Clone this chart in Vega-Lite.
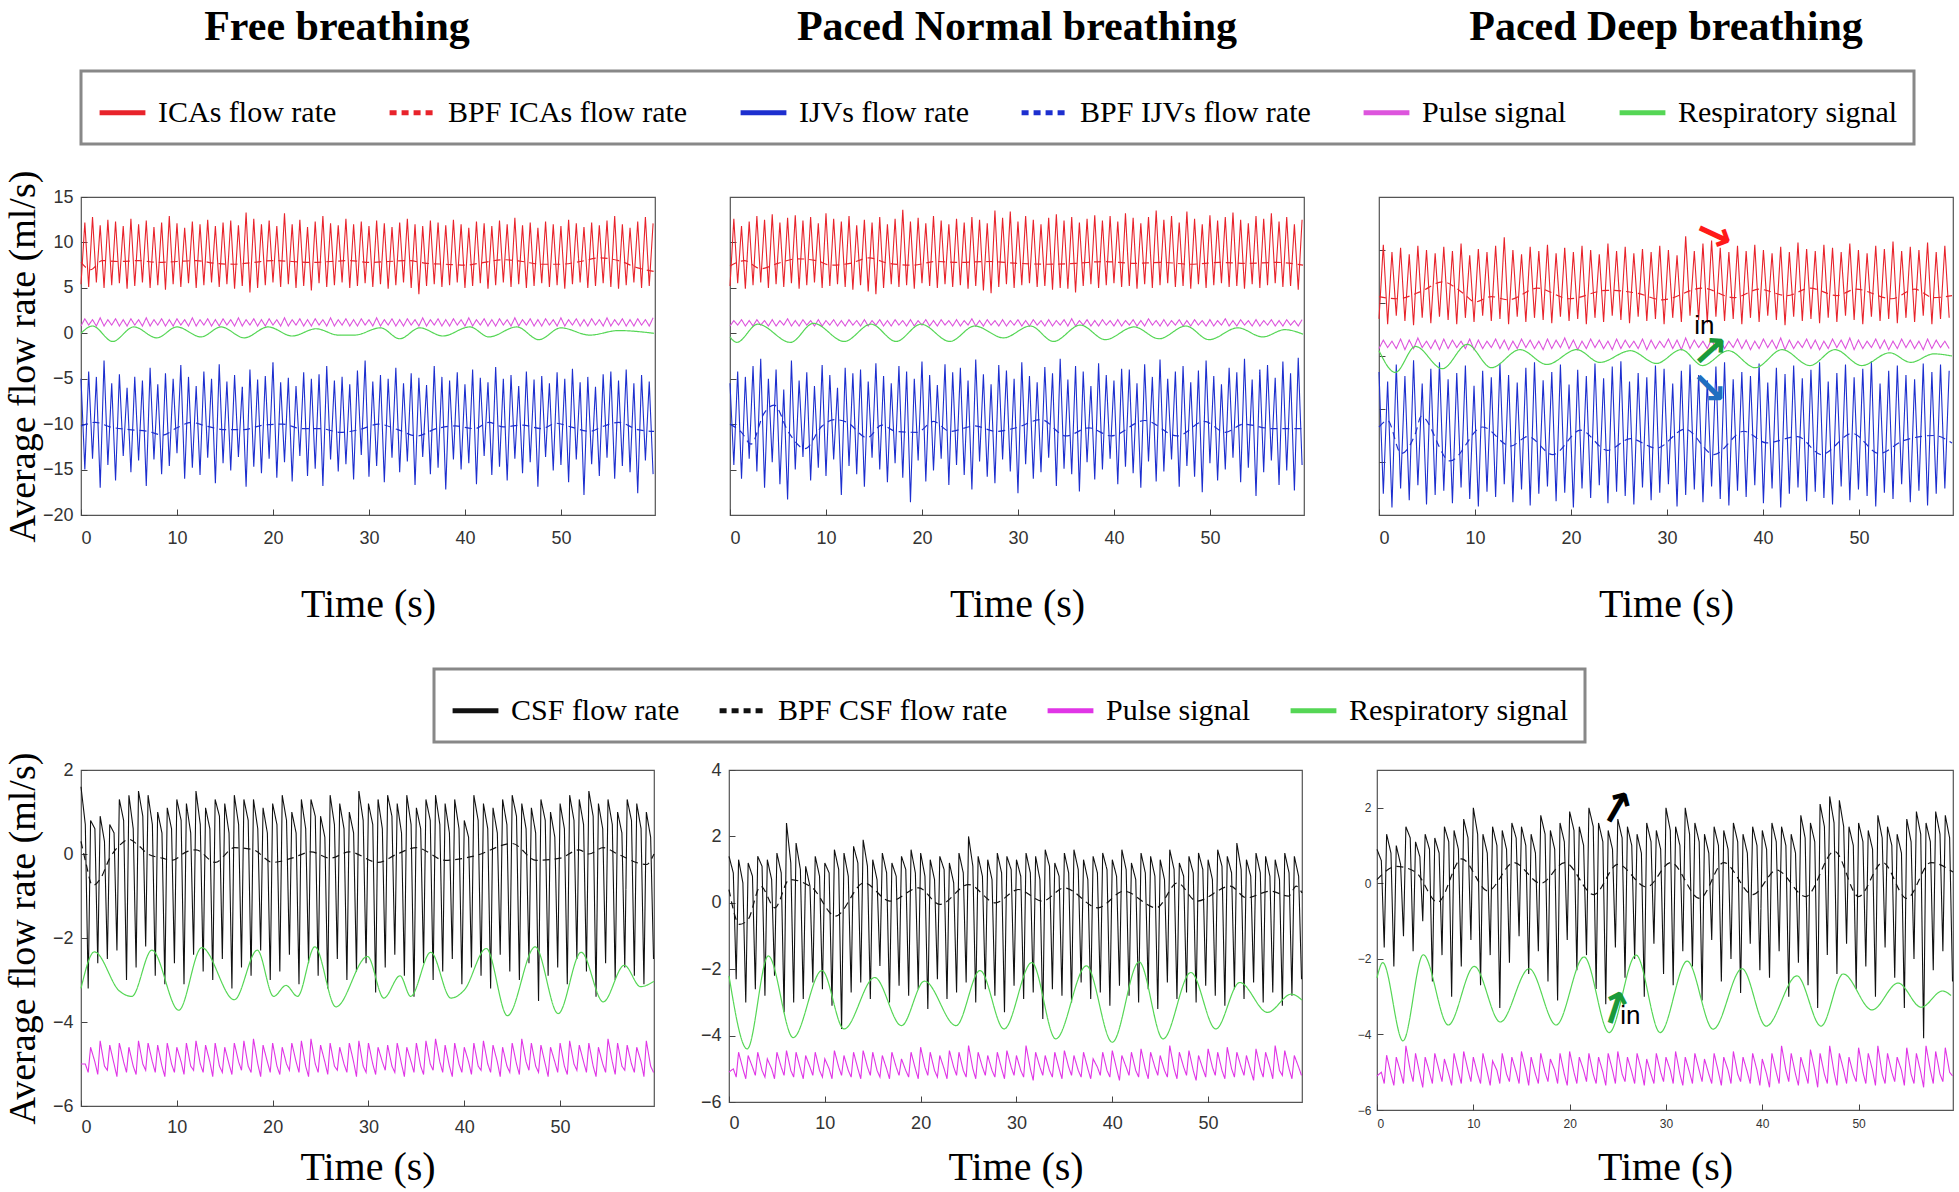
{
"$schema":"https://vega.github.io/schema/vega-lite/v6.json",
"background":"white",
"padding":{"left":3,"top":5,"right":3,"bottom":1},
"spacing":42,
"resolve":{"scale":{"color":"independent","strokeDash":"independent"}},
"config":{
 "font":"Liberation Serif",
 "view":{"stroke":"#555","strokeWidth":1.2},
 "axis":{"grid":false,"domain":false,"tickColor":"#444","tickSize":-6,"tickWidth":1,"labelFont":"Liberation Sans Narrow, Liberation Sans, Arial, sans-serif","labelFontSize":18,"labelColor":"#333","titleFont":"Liberation Serif","titleFontWeight":"normal","titleColor":"#000","titleBaseline":"middle"},
 "axisX":{"titleFontSize":40,"titleY":89,"labelPadding":20},
 "axisY":{"titleFontSize":38,"labelPadding":14},
 "title":{"font":"Liberation Serif","fontSize":42,"fontWeight":"bold","color":"#000","frame":"group","offset":148,"baseline":"alphabetic"},
 "legend":{"labelFont":"Liberation Serif","labelFontSize":30,"labelColor":"#000","labelLimit":0,"symbolType":"stroke","symbolStrokeWidth":5,"symbolSize":2100,"labelOffset":10,"strokeColor":"#888","fillColor":"#fff","padding":16}
},
"datasets":{
"p1f":[
{"t":0,"a":5.4,"c":-5.0,"e":0.8},{"t":0.4,"a":12.2,"c":-15.0,"e":1.6},{"t":0.8,"a":5.1,"c":-4.2,"e":0.9},{"t":1.2,"a":12.8,"c":-13.8,"e":1.5},{"t":1.6,"a":5.6,"c":-4.8,"e":0.8},{"t":2.0,"a":11.9,"c":-17.0,"e":1.7},{"t":2.4,"a":5.0,"c":-3.0,"e":0.8},{"t":2.8,"a":12.5,"c":-14.5,"e":1.5},{"t":3.2,"a":5.3,"c":-5.5,"e":0.9},{"t":3.6,"a":12.3,"c":-16.2,"e":1.6},
{"t":4.0,"a":5.5,"c":-4.5,"e":0.8},{"t":4.4,"a":11.8,"c":-13.5,"e":1.5},{"t":4.8,"a":4.9,"c":-6.0,"e":0.8},{"t":5.2,"a":12.6,"c":-15.3,"e":1.6},{"t":5.6,"a":5.2,"c":-4.8,"e":0.9},{"t":6.0,"a":12.0,"c":-14.0,"e":1.5},{"t":6.4,"a":5.6,"c":-5.2,"e":0.8},{"t":6.8,"a":12.4,"c":-16.8,"e":1.7},{"t":7.2,"a":5.0,"c":-3.8,"e":0.8},{"t":7.6,"a":11.7,"c":-13.9,"e":1.5},
{"t":8.0,"a":5.3,"c":-5.6,"e":0.9},{"t":8.4,"a":12.2,"c":-15.5,"e":1.6},{"t":8.8,"a":4.8,"c":-4.4,"e":0.8},{"t":9.2,"a":12.9,"c":-14.6,"e":1.5},{"t":9.6,"a":5.4,"c":-5.0,"e":0.8},{"t":10.0,"a":12.1,"c":-13.2,"e":1.6},{"t":10.4,"a":5.1,"c":-3.5,"e":0.9},{"t":10.8,"a":11.6,"c":-16.0,"e":1.5},{"t":11.2,"a":5.5,"c":-4.8,"e":0.8},{"t":11.6,"a":12.3,"c":-14.8,"e":1.7},
{"t":12.0,"a":5.0,"c":-5.8,"e":0.8},{"t":12.4,"a":12.0,"c":-15.6,"e":1.5},{"t":12.8,"a":5.3,"c":-4.2,"e":0.9},{"t":13.2,"a":12.5,"c":-13.7,"e":1.6},{"t":13.6,"a":5.6,"c":-5.0,"e":0.8},{"t":14.0,"a":11.8,"c":-16.5,"e":1.5},{"t":14.4,"a":5.1,"c":-3.4,"e":0.8},{"t":14.8,"a":12.2,"c":-14.3,"e":1.6},{"t":15.2,"a":5.4,"c":-5.3,"e":0.9},{"t":15.6,"a":12.4,"c":-15.1,"e":1.5},
{"t":16.0,"a":4.9,"c":-4.6,"e":0.8},{"t":16.4,"a":11.9,"c":-13.6,"e":1.7},{"t":16.8,"a":5.2,"c":-5.9,"e":0.8},{"t":17.2,"a":13.3,"c":-16.9,"e":1.5},{"t":17.6,"a":4.5,"c":-4.0,"e":0.9},{"t":18.0,"a":12.6,"c":-14.7,"e":1.6},{"t":18.4,"a":5.0,"c":-5.1,"e":0.8},{"t":18.8,"a":12.0,"c":-15.4,"e":1.5},{"t":19.2,"a":5.3,"c":-4.7,"e":0.8},{"t":19.6,"a":12.4,"c":-13.8,"e":1.6},
{"t":20.0,"a":5.6,"c":-3.2,"e":0.9},{"t":20.4,"a":11.8,"c":-15.9,"e":1.5},{"t":20.8,"a":5.1,"c":-5.4,"e":0.8},{"t":21.2,"a":13.2,"c":-14.2,"e":1.7},{"t":21.6,"a":5.4,"c":-4.9,"e":0.8},{"t":22.0,"a":12.0,"c":-16.3,"e":1.5},{"t":22.4,"a":5.0,"c":-5.8,"e":0.9},{"t":22.8,"a":12.5,"c":-13.5,"e":1.6},{"t":23.2,"a":5.2,"c":-4.3,"e":0.8},{"t":23.6,"a":11.7,"c":-15.7,"e":1.5},
{"t":24.0,"a":4.7,"c":-5.0,"e":0.8},{"t":24.4,"a":12.3,"c":-14.9,"e":1.6},{"t":24.8,"a":5.5,"c":-4.5,"e":0.9},{"t":25.2,"a":12.9,"c":-16.8,"e":1.5},{"t":25.6,"a":5.1,"c":-3.6,"e":0.8},{"t":26.0,"a":12.1,"c":-13.9,"e":1.7},{"t":26.4,"a":5.3,"c":-5.2,"e":0.8},{"t":26.8,"a":11.9,"c":-15.2,"e":1.5},{"t":27.2,"a":5.6,"c":-4.8,"e":0.9},{"t":27.6,"a":12.6,"c":-14.4,"e":1.6},
{"t":28.0,"a":5.0,"c":-5.6,"e":0.8},{"t":28.4,"a":12.0,"c":-16.1,"e":1.5},{"t":28.8,"a":5.2,"c":-4.1,"e":0.8},{"t":29.2,"a":12.3,"c":-13.4,"e":1.6},{"t":29.6,"a":5.5,"c":-3.0,"e":0.9},{"t":30.0,"a":11.8,"c":-15.8,"e":1.5},{"t":30.4,"a":5.1,"c":-5.3,"e":0.8},{"t":30.8,"a":12.4,"c":-14.6,"e":1.7},{"t":31.2,"a":5.4,"c":-4.6,"e":0.8},{"t":31.6,"a":12.1,"c":-16.4,"e":1.5},
{"t":32.0,"a":4.9,"c":-5.0,"e":0.9},{"t":32.4,"a":11.7,"c":-13.7,"e":1.6},{"t":32.8,"a":5.3,"c":-3.8,"e":0.8},{"t":33.2,"a":12.2,"c":-15.3,"e":1.5},{"t":33.6,"a":5.6,"c":-5.5,"e":0.8},{"t":34.0,"a":12.6,"c":-14.1,"e":1.6},{"t":34.4,"a":5.0,"c":-4.4,"e":0.9},{"t":34.8,"a":12.0,"c":-16.7,"e":1.5},{"t":35.2,"a":4.3,"c":-4.9,"e":0.8},{"t":35.6,"a":11.8,"c":-13.6,"e":1.7},
{"t":36.0,"a":5.2,"c":-5.7,"e":0.8},{"t":36.4,"a":12.4,"c":-15.5,"e":1.5},{"t":36.8,"a":5.4,"c":-3.6,"e":0.9},{"t":37.2,"a":12.2,"c":-14.8,"e":1.6},{"t":37.6,"a":5.1,"c":-4.8,"e":0.8},{"t":38.0,"a":11.9,"c":-17.2,"e":1.5},{"t":38.4,"a":5.3,"c":-5.2,"e":0.8},{"t":38.8,"a":12.5,"c":-13.9,"e":1.6},{"t":39.2,"a":5.6,"c":-4.3,"e":0.9},{"t":39.6,"a":12.0,"c":-15.0,"e":1.5},
{"t":40.0,"a":5.0,"c":-5.6,"e":0.8},{"t":40.4,"a":11.6,"c":-14.3,"e":1.7},{"t":40.8,"a":5.2,"c":-4.0,"e":0.8},{"t":41.2,"a":12.3,"c":-16.6,"e":1.5},{"t":41.6,"a":5.5,"c":-4.9,"e":0.9},{"t":42.0,"a":12.1,"c":-13.5,"e":1.6},{"t":42.4,"a":4.9,"c":-5.4,"e":0.8},{"t":42.8,"a":11.8,"c":-15.6,"e":1.5},{"t":43.2,"a":5.3,"c":-3.7,"e":0.8},{"t":43.6,"a":12.4,"c":-14.7,"e":1.6},
{"t":44.0,"a":5.6,"c":-5.0,"e":0.9},{"t":44.4,"a":12.0,"c":-16.2,"e":1.5},{"t":44.8,"a":5.1,"c":-4.6,"e":0.8},{"t":45.2,"a":12.7,"c":-13.8,"e":1.7},{"t":45.6,"a":5.4,"c":-5.8,"e":0.8},{"t":46.0,"a":11.9,"c":-15.4,"e":1.5},{"t":46.4,"a":5.0,"c":-4.2,"e":0.9},{"t":46.8,"a":12.2,"c":-14.2,"e":1.6},{"t":47.2,"a":5.2,"c":-5.1,"e":0.8},{"t":47.6,"a":11.6,"c":-16.9,"e":1.5},
{"t":48.0,"a":5.5,"c":-4.7,"e":0.8},{"t":48.4,"a":12.3,"c":-13.6,"e":1.6},{"t":48.8,"a":5.1,"c":-5.5,"e":0.9},{"t":49.2,"a":12.0,"c":-15.1,"e":1.5},{"t":49.6,"a":5.3,"c":-4.3,"e":0.8},{"t":50.0,"a":11.8,"c":-14.5,"e":1.7},{"t":50.4,"a":4.9,"c":-5.0,"e":0.8},{"t":50.8,"a":12.5,"c":-16.4,"e":1.5},{"t":51.2,"a":5.4,"c":-3.9,"e":0.9},{"t":51.6,"a":12.1,"c":-13.9,"e":1.6},
{"t":52.0,"a":5.6,"c":-5.4,"e":0.8},{"t":52.4,"a":11.7,"c":-17.8,"e":1.5},{"t":52.8,"a":5.0,"c":-4.8,"e":0.8},{"t":53.2,"a":12.2,"c":-14.4,"e":1.6},{"t":53.6,"a":5.2,"c":-5.9,"e":0.9},{"t":54.0,"a":11.9,"c":-15.7,"e":1.5},{"t":54.4,"a":5.5,"c":-4.5,"e":0.8},{"t":54.8,"a":12.4,"c":-13.7,"e":1.7},{"t":55.2,"a":5.1,"c":-4.2,"e":0.8},{"t":55.6,"a":12.9,"c":-16.0,"e":1.5},
{"t":56.0,"a":4.9,"c":-5.2,"e":0.9},{"t":56.4,"a":12.0,"c":-14.6,"e":1.6},{"t":56.8,"a":5.3,"c":-4.0,"e":0.8},{"t":57.2,"a":11.6,"c":-15.3,"e":1.5},{"t":57.6,"a":5.6,"c":-5.5,"e":0.8},{"t":58.0,"a":12.3,"c":-17.6,"e":1.6},{"t":58.4,"a":5.0,"c":-4.6,"e":0.9},{"t":58.8,"a":12.8,"c":-14.0,"e":1.5},{"t":59.2,"a":5.2,"c":-5.3,"e":0.8},{"t":59.6,"a":12.1,"c":-15.5,"e":1.7}
],
"p1s":[
{"t":0,"s":"b","v":7.8},{"t":1,"s":"b","v":7.0},{"t":2.2,"s":"b","v":8.0},{"t":4,"s":"b","v":7.9},{"t":6,"s":"b","v":8.0},{"t":8,"s":"b","v":7.8},{"t":10,"s":"b","v":7.9},{"t":12,"s":"b","v":8.0},{"t":14,"s":"b","v":7.7},{"t":16,"s":"b","v":7.6},{"t":18,"s":"b","v":7.8},{"t":20,"s":"b","v":8.0},{"t":22,"s":"b","v":7.9},{"t":24,"s":"b","v":7.8},{"t":26,"s":"b","v":7.9},{"t":28,"s":"b","v":8.0},{"t":30,"s":"b","v":7.8},{"t":32,"s":"b","v":7.9},{"t":34,"s":"b","v":8.0},{"t":36,"s":"b","v":7.7},{"t":38,"s":"b","v":7.6},{"t":40,"s":"b","v":7.5},{"t":42,"s":"b","v":7.8},{"t":44,"s":"b","v":8.1},{"t":46,"s":"b","v":7.9},{"t":48,"s":"b","v":7.6},{"t":50,"s":"b","v":7.6},{"t":52,"s":"b","v":7.9},{"t":54,"s":"b","v":8.3},{"t":56,"s":"b","v":8.0},{"t":58,"s":"b","v":7.2},{"t":59.7,"s":"b","v":6.8},
{"t":0,"s":"d","v":-10.2},{"t":1.5,"s":"d","v":-9.8},{"t":3,"s":"d","v":-10.3},{"t":5,"s":"d","v":-10.6},{"t":7,"s":"d","v":-10.8},{"t":8.5,"s":"d","v":-11.2},{"t":10,"s":"d","v":-10.4},{"t":11.5,"s":"d","v":-9.8},{"t":13,"s":"d","v":-10.2},{"t":15,"s":"d","v":-10.6},{"t":17,"s":"d","v":-10.6},{"t":19,"s":"d","v":-10.1},{"t":21,"s":"d","v":-10.0},{"t":23,"s":"d","v":-10.5},{"t":25,"s":"d","v":-10.5},{"t":27,"s":"d","v":-10.9},{"t":29,"s":"d","v":-10.6},{"t":31,"s":"d","v":-10.0},{"t":33,"s":"d","v":-10.6},{"t":35,"s":"d","v":-11.3},{"t":37,"s":"d","v":-10.5},{"t":39,"s":"d","v":-10.2},{"t":41,"s":"d","v":-10.5},{"t":42.5,"s":"d","v":-9.8},{"t":44,"s":"d","v":-10.3},{"t":46,"s":"d","v":-10.1},{"t":48,"s":"d","v":-10.5},{"t":49.5,"s":"d","v":-9.9},{"t":51,"s":"d","v":-10.3},{"t":53,"s":"d","v":-10.8},{"t":54.5,"s":"d","v":-10.2},{"t":56,"s":"d","v":-9.8},{"t":58,"s":"d","v":-10.6},{"t":59.7,"s":"d","v":-10.8},
{"t":0,"s":"f","v":0.0},{"t":1.2,"s":"f","v":0.8},{"t":3.3,"s":"f","v":-0.9},{"t":5.5,"s":"f","v":0.7},{"t":7.9,"s":"f","v":-0.5},{"t":10,"s":"f","v":0.7},{"t":12.5,"s":"f","v":-0.4},{"t":14.6,"s":"f","v":0.7},{"t":17,"s":"f","v":-0.5},{"t":19.5,"s":"f","v":0.7},{"t":22,"s":"f","v":-0.3},{"t":24.5,"s":"f","v":0.5},{"t":26.8,"s":"f","v":-0.2},{"t":28.5,"s":"f","v":-0.2},{"t":31.2,"s":"f","v":0.6},{"t":33.2,"s":"f","v":-0.6},{"t":35.3,"s":"f","v":0.6},{"t":37.7,"s":"f","v":-0.3},{"t":40.5,"s":"f","v":0.7},{"t":42.5,"s":"f","v":-0.4},{"t":45.4,"s":"f","v":0.7},{"t":47.7,"s":"f","v":-0.7},{"t":50,"s":"f","v":0.6},{"t":53,"s":"f","v":-0.2},{"t":56,"s":"f","v":0.3},{"t":59.7,"s":"f","v":0.0}
],
"p2f":[
{"t":0,"a":5.2,"c":-5.5,"e":0.8},{"t":0.4,"a":12.6,"c":-14.5,"e":1.4},{"t":0.8,"a":5.5,"c":-4.2,"e":0.9},{"t":1.2,"a":11.8,"c":-16.0,"e":1.5},{"t":1.6,"a":4.9,"c":-4.8,"e":0.8},{"t":2.0,"a":12.3,"c":-13.8,"e":1.4},{"t":2.4,"a":5.3,"c":-3.6,"e":0.8},{"t":2.8,"a":12.9,"c":-15.2,"e":1.5},{"t":3.2,"a":5.6,"c":-2.8,"e":0.9},{"t":3.6,"a":12.5,"c":-17.0,"e":1.4},
{"t":4.0,"a":5.0,"c":-5.0,"e":0.8},{"t":4.4,"a":13.1,"c":-14.2,"e":1.5},{"t":4.8,"a":5.4,"c":-4.0,"e":0.8},{"t":5.2,"a":12.2,"c":-16.6,"e":1.4},{"t":5.6,"a":5.1,"c":-6.2,"e":0.9},{"t":6.0,"a":12.7,"c":-18.3,"e":1.6},{"t":6.4,"a":5.5,"c":-3.0,"e":0.8},{"t":6.8,"a":13.0,"c":-15.0,"e":1.4},{"t":7.2,"a":4.9,"c":-5.2,"e":0.8},{"t":7.6,"a":12.4,"c":-13.6,"e":1.5},
{"t":8.0,"a":5.3,"c":-4.3,"e":0.9},{"t":8.4,"a":12.8,"c":-16.2,"e":1.4},{"t":8.8,"a":5.6,"c":-5.8,"e":0.8},{"t":9.2,"a":12.1,"c":-14.8,"e":1.5},{"t":9.6,"a":5.0,"c":-3.5,"e":0.8},{"t":10.0,"a":13.2,"c":-15.7,"e":1.4},{"t":10.4,"a":5.2,"c":-4.6,"e":0.9},{"t":10.8,"a":12.6,"c":-13.9,"e":1.5},{"t":11.2,"a":5.4,"c":-6.0,"e":0.8},{"t":11.6,"a":12.3,"c":-17.8,"e":1.4},
{"t":12.0,"a":5.1,"c":-3.8,"e":0.8},{"t":12.4,"a":12.9,"c":-14.6,"e":1.5},{"t":12.8,"a":4.8,"c":-4.4,"e":0.9},{"t":13.2,"a":11.9,"c":-15.5,"e":1.4},{"t":13.6,"a":5.3,"c":-4.0,"e":0.8},{"t":14.0,"a":12.5,"c":-16.9,"e":1.5},{"t":14.4,"a":4.6,"c":-5.3,"e":0.8},{"t":14.8,"a":12.2,"c":-13.7,"e":1.4},{"t":15.2,"a":4.3,"c":-3.3,"e":0.9},{"t":15.6,"a":12.8,"c":-15.0,"e":1.5},
{"t":16.0,"a":5.0,"c":-4.7,"e":0.8},{"t":16.4,"a":12.0,"c":-16.4,"e":1.4},{"t":16.8,"a":5.4,"c":-5.5,"e":0.8},{"t":17.2,"a":12.6,"c":-14.3,"e":1.5},{"t":17.6,"a":5.1,"c":-3.6,"e":0.9},{"t":18.0,"a":13.6,"c":-15.9,"e":1.4},{"t":18.4,"a":5.3,"c":-4.2,"e":0.8},{"t":18.8,"a":12.3,"c":-18.6,"e":1.5},{"t":19.2,"a":4.9,"c":-5.0,"e":0.8},{"t":19.6,"a":12.7,"c":-14.0,"e":1.4},
{"t":20.0,"a":5.5,"c":-3.1,"e":0.9},{"t":20.4,"a":12.1,"c":-16.3,"e":1.5},{"t":20.8,"a":5.2,"c":-4.6,"e":0.8},{"t":21.2,"a":12.9,"c":-15.1,"e":1.4},{"t":21.6,"a":5.0,"c":-5.7,"e":0.8},{"t":22.0,"a":12.4,"c":-13.8,"e":1.5},{"t":22.4,"a":5.4,"c":-3.4,"e":0.9},{"t":22.8,"a":12.0,"c":-16.7,"e":1.4},{"t":23.2,"a":5.1,"c":-4.3,"e":0.8},{"t":23.6,"a":12.6,"c":-14.5,"e":1.5},
{"t":24.0,"a":5.3,"c":-3.8,"e":0.8},{"t":24.4,"a":12.2,"c":-15.6,"e":1.4},{"t":24.8,"a":4.9,"c":-5.2,"e":0.9},{"t":25.2,"a":12.8,"c":-17.2,"e":1.6},{"t":25.6,"a":5.2,"c":-2.9,"e":0.8},{"t":26.0,"a":12.5,"c":-14.1,"e":1.4},{"t":26.4,"a":4.7,"c":-4.5,"e":0.8},{"t":26.8,"a":12.1,"c":-15.8,"e":1.5},{"t":27.2,"a":4.4,"c":-5.6,"e":0.9},{"t":27.6,"a":13.5,"c":-16.5,"e":1.4},
{"t":28.0,"a":5.1,"c":-3.5,"e":0.8},{"t":28.4,"a":12.7,"c":-13.9,"e":1.5},{"t":28.8,"a":5.4,"c":-4.1,"e":0.8},{"t":29.2,"a":13.4,"c":-15.2,"e":1.4},{"t":29.6,"a":5.0,"c":-5.0,"e":0.9},{"t":30.0,"a":12.3,"c":-17.6,"e":1.5},{"t":30.4,"a":5.3,"c":-3.2,"e":0.8},{"t":30.8,"a":12.9,"c":-14.4,"e":1.4},{"t":31.2,"a":5.5,"c":-4.7,"e":0.8},{"t":31.6,"a":12.5,"c":-16.0,"e":1.5},
{"t":32.0,"a":5.1,"c":-5.4,"e":0.9},{"t":32.4,"a":12.0,"c":-15.3,"e":1.4},{"t":32.8,"a":5.2,"c":-3.7,"e":0.8},{"t":33.2,"a":12.7,"c":-13.7,"e":1.5},{"t":33.6,"a":4.8,"c":-4.4,"e":0.8},{"t":34.0,"a":13.1,"c":-16.8,"e":1.4},{"t":34.4,"a":5.0,"c":-2.8,"e":0.9},{"t":34.8,"a":12.4,"c":-14.9,"e":1.5},{"t":35.2,"a":4.9,"c":-5.1,"e":0.8},{"t":35.6,"a":12.8,"c":-15.5,"e":1.6},
{"t":36.0,"a":4.5,"c":-3.6,"e":0.8},{"t":36.4,"a":12.2,"c":-17.4,"e":1.4},{"t":36.8,"a":5.2,"c":-4.2,"e":0.9},{"t":37.2,"a":12.6,"c":-14.2,"e":1.5},{"t":37.6,"a":5.4,"c":-5.8,"e":0.8},{"t":38.0,"a":13.0,"c":-16.1,"e":1.4},{"t":38.4,"a":5.0,"c":-3.3,"e":0.8},{"t":38.8,"a":12.4,"c":-15.0,"e":1.5},{"t":39.2,"a":5.3,"c":-4.6,"e":0.9},{"t":39.6,"a":12.9,"c":-13.8,"e":1.4},
{"t":40.0,"a":5.5,"c":-5.2,"e":0.8},{"t":40.4,"a":12.3,"c":-16.6,"e":1.5},{"t":40.8,"a":5.1,"c":-3.9,"e":0.8},{"t":41.2,"a":13.2,"c":-14.7,"e":1.4},{"t":41.6,"a":5.2,"c":-4.0,"e":0.9},{"t":42.0,"a":12.7,"c":-15.4,"e":1.5},{"t":42.4,"a":4.9,"c":-5.5,"e":0.8},{"t":42.8,"a":12.1,"c":-17.0,"e":1.4},{"t":43.2,"a":5.4,"c":-3.4,"e":0.8},{"t":43.6,"a":12.8,"c":-14.1,"e":1.6},
{"t":44.0,"a":5.0,"c":-4.8,"e":0.9},{"t":44.4,"a":13.5,"c":-16.3,"e":1.4},{"t":44.8,"a":5.3,"c":-2.9,"e":0.8},{"t":45.2,"a":12.5,"c":-15.2,"e":1.5},{"t":45.6,"a":5.5,"c":-5.0,"e":0.8},{"t":46.0,"a":12.9,"c":-13.9,"e":1.4},{"t":46.4,"a":5.1,"c":-4.2,"e":0.9},{"t":46.8,"a":12.2,"c":-16.9,"e":1.5},{"t":47.2,"a":5.2,"c":-3.6,"e":0.8},{"t":47.6,"a":13.4,"c":-14.6,"e":1.4},
{"t":48.0,"a":4.9,"c":-5.4,"e":0.8},{"t":48.4,"a":12.6,"c":-15.8,"e":1.5},{"t":48.8,"a":5.4,"c":-4.1,"e":0.9},{"t":49.2,"a":12.0,"c":-17.5,"e":1.4},{"t":49.6,"a":5.0,"c":-3.0,"e":0.8},{"t":50.0,"a":13.0,"c":-14.3,"e":1.5},{"t":50.4,"a":5.3,"c":-4.7,"e":0.8},{"t":50.8,"a":12.4,"c":-16.2,"e":1.4},{"t":51.2,"a":5.5,"c":-5.6,"e":0.9},{"t":51.6,"a":12.8,"c":-15.0,"e":1.6},
{"t":52.0,"a":5.1,"c":-3.8,"e":0.8},{"t":52.4,"a":13.3,"c":-13.7,"e":1.4},{"t":52.8,"a":5.2,"c":-4.3,"e":0.8},{"t":53.2,"a":12.5,"c":-16.4,"e":1.5},{"t":53.6,"a":4.9,"c":-2.8,"e":0.9},{"t":54.0,"a":12.1,"c":-14.8,"e":1.4},{"t":54.4,"a":5.4,"c":-5.1,"e":0.8},{"t":54.8,"a":12.9,"c":-17.9,"e":1.5},{"t":55.2,"a":5.0,"c":-4.0,"e":0.8},{"t":55.6,"a":12.6,"c":-15.3,"e":1.4},
{"t":56.0,"a":5.3,"c":-3.5,"e":0.9},{"t":56.4,"a":13.2,"c":-14.0,"e":1.5},{"t":56.8,"a":5.5,"c":-4.9,"e":0.8},{"t":57.2,"a":12.3,"c":-16.7,"e":1.4},{"t":57.6,"a":5.1,"c":-3.1,"e":0.8},{"t":58.0,"a":12.8,"c":-15.1,"e":1.5},{"t":58.4,"a":5.2,"c":-4.4,"e":0.9},{"t":58.8,"a":12.0,"c":-17.3,"e":1.4},{"t":59.2,"a":4.8,"c":-2.7,"e":0.8},{"t":59.6,"a":12.5,"c":-14.5,"e":1.5}
],
"p2s":[
{"t":0,"s":"b","v":7.4},{"t":1.5,"s":"b","v":8.0},{"t":3.2,"s":"b","v":7.1},{"t":5,"s":"b","v":7.7},{"t":7,"s":"b","v":8.2},{"t":9,"s":"b","v":8.0},{"t":10.5,"s":"b","v":7.5},{"t":12.5,"s":"b","v":7.7},{"t":14.5,"s":"b","v":8.3},{"t":16.5,"s":"b","v":7.7},{"t":19,"s":"b","v":7.5},{"t":21.5,"s":"b","v":7.9},{"t":24,"s":"b","v":7.8},{"t":27,"s":"b","v":7.9},{"t":30,"s":"b","v":7.7},{"t":33,"s":"b","v":7.6},{"t":36,"s":"b","v":7.7},{"t":39,"s":"b","v":7.9},{"t":42,"s":"b","v":7.7},{"t":45,"s":"b","v":7.8},{"t":48,"s":"b","v":7.6},{"t":51,"s":"b","v":7.8},{"t":54,"s":"b","v":7.7},{"t":57,"s":"b","v":7.8},{"t":59.7,"s":"b","v":7.5},
{"t":0,"s":"d","v":-10.0},{"t":1.2,"s":"d","v":-10.9},{"t":2.2,"s":"d","v":-12.2},{"t":3.5,"s":"d","v":-8.9},{"t":4.6,"s":"d","v":-7.9},{"t":6.1,"s":"d","v":-10.9},{"t":7.8,"s":"d","v":-12.7},{"t":9.6,"s":"d","v":-10.2},{"t":10.9,"s":"d","v":-9.5},{"t":12.2,"s":"d","v":-9.8},{"t":14.3,"s":"d","v":-11.5},{"t":15.8,"s":"d","v":-10.1},{"t":17.3,"s":"d","v":-10.8},{"t":19.5,"s":"d","v":-10.9},{"t":21.2,"s":"d","v":-9.7},{"t":22.9,"s":"d","v":-10.8},{"t":25.5,"s":"d","v":-10.2},{"t":27.7,"s":"d","v":-10.8},{"t":29.8,"s":"d","v":-10.4},{"t":32.4,"s":"d","v":-9.5},{"t":35,"s":"d","v":-11.3},{"t":37.4,"s":"d","v":-10.4},{"t":39.7,"s":"d","v":-11.3},{"t":43.2,"s":"d","v":-9.6},{"t":46.6,"s":"d","v":-11.3},{"t":49.4,"s":"d","v":-9.7},{"t":51.6,"s":"d","v":-10.9},{"t":53.5,"s":"d","v":-10.0},{"t":56.5,"s":"d","v":-10.5},{"t":59.7,"s":"d","v":-10.5},
{"t":0,"s":"f","v":-0.4},{"t":0.7,"s":"f","v":-1.0},{"t":2.9,"s":"f","v":1.0},{"t":6.3,"s":"f","v":-1.0},{"t":8.7,"s":"f","v":1.1},{"t":11.9,"s":"f","v":-0.9},{"t":14.7,"s":"f","v":1.0},{"t":17.3,"s":"f","v":-0.9},{"t":19.9,"s":"f","v":1.0},{"t":22.9,"s":"f","v":-0.9},{"t":25.5,"s":"f","v":0.8},{"t":28.5,"s":"f","v":-0.5},{"t":31.3,"s":"f","v":0.8},{"t":33.7,"s":"f","v":-0.9},{"t":36.5,"s":"f","v":0.9},{"t":39.1,"s":"f","v":-0.7},{"t":42.1,"s":"f","v":0.7},{"t":44.7,"s":"f","v":-0.6},{"t":47.5,"s":"f","v":0.8},{"t":49.9,"s":"f","v":-0.7},{"t":52.9,"s":"f","v":0.6},{"t":55.5,"s":"f","v":-0.4},{"t":57.8,"s":"f","v":0.4},{"t":59.7,"s":"f","v":-0.1}
],
"p3f":[
{"t":0,"a":3.5,"c":-1.5,"e":0.7},{"t":0.45,"a":10.5,"c":-13.0,"e":1.5},{"t":0.9,"a":3.0,"c":-2.4,"e":0.8},{"t":1.35,"a":9.8,"c":-14.3,"e":1.4},{"t":1.8,"a":3.8,"c":-0.8,"e":0.7},{"t":2.25,"a":10.2,"c":-12.5,"e":1.6},{"t":2.7,"a":3.3,"c":-1.9,"e":0.6},{"t":3.15,"a":9.6,"c":-13.6,"e":1.5},{"t":3.6,"a":2.9,"c":-0.4,"e":0.7},{"t":4.05,"a":10.4,"c":-12.2,"e":1.7},
{"t":4.5,"a":3.6,"c":-2.6,"e":0.8},{"t":4.95,"a":10.0,"c":-14.0,"e":1.4},{"t":5.4,"a":3.1,"c":-1.2,"e":0.7},{"t":5.85,"a":9.7,"c":-13.1,"e":1.5},{"t":6.3,"a":3.7,"c":-0.6,"e":0.6},{"t":6.75,"a":10.3,"c":-12.7,"e":1.6},{"t":7.2,"a":3.4,"c":-2.2,"e":0.7},{"t":7.65,"a":9.9,"c":-13.9,"e":1.5},{"t":8.1,"a":3.0,"c":-1.6,"e":0.8},{"t":8.55,"a":10.6,"c":-12.4,"e":1.4},
{"t":9.0,"a":3.6,"c":-0.9,"e":0.7},{"t":9.45,"a":9.5,"c":-13.5,"e":1.6},{"t":9.9,"a":3.2,"c":-2.8,"e":0.6},{"t":10.35,"a":10.1,"c":-14.2,"e":1.5},{"t":10.8,"a":3.8,"c":-1.4,"e":0.7},{"t":11.25,"a":9.8,"c":-12.8,"e":1.4},{"t":11.7,"a":3.3,"c":-2.0,"e":0.8},{"t":12.15,"a":10.4,"c":-13.3,"e":1.6},{"t":12.6,"a":3.5,"c":-0.7,"e":0.7},{"t":13.05,"a":11.2,"c":-12.1,"e":1.5},
{"t":13.5,"a":3.0,"c":-1.8,"e":0.6},{"t":13.95,"a":10.0,"c":-13.8,"e":1.4},{"t":14.4,"a":3.7,"c":-2.5,"e":0.7},{"t":14.85,"a":9.6,"c":-12.6,"e":1.6},{"t":15.3,"a":3.2,"c":-1.1,"e":0.8},{"t":15.75,"a":10.3,"c":-14.1,"e":1.5},{"t":16.2,"a":3.6,"c":-0.6,"e":0.7},{"t":16.65,"a":9.9,"c":-13.0,"e":1.4},{"t":17.1,"a":3.4,"c":-2.3,"e":0.6},{"t":17.55,"a":10.5,"c":-12.3,"e":1.6},
{"t":18.0,"a":3.1,"c":-1.5,"e":0.7},{"t":18.45,"a":9.7,"c":-13.7,"e":1.5},{"t":18.9,"a":3.7,"c":-0.8,"e":0.8},{"t":19.35,"a":10.2,"c":-12.9,"e":1.7},{"t":19.8,"a":3.3,"c":-2.7,"e":0.7},{"t":20.25,"a":9.8,"c":-14.3,"e":1.5},{"t":20.7,"a":3.5,"c":-1.3,"e":0.6},{"t":21.15,"a":10.4,"c":-12.5,"e":1.4},{"t":21.6,"a":3.0,"c":-1.9,"e":0.7},{"t":22.05,"a":10.0,"c":-13.4,"e":1.6},
{"t":22.5,"a":3.6,"c":-0.7,"e":0.8},{"t":22.95,"a":9.6,"c":-12.2,"e":1.5},{"t":23.4,"a":3.2,"c":-2.1,"e":0.7},{"t":23.85,"a":10.6,"c":-13.9,"e":1.4},{"t":24.3,"a":3.8,"c":-1.0,"e":0.6},{"t":24.75,"a":9.9,"c":-12.8,"e":1.6},{"t":25.2,"a":3.4,"c":-0.5,"e":0.7},{"t":25.65,"a":10.3,"c":-13.2,"e":1.5},{"t":26.1,"a":3.1,"c":-2.4,"e":0.8},{"t":26.55,"a":9.7,"c":-14.0,"e":1.4},
{"t":27.0,"a":3.7,"c":-1.6,"e":0.7},{"t":27.45,"a":10.1,"c":-12.4,"e":1.6},{"t":27.9,"a":3.3,"c":-2.0,"e":0.6},{"t":28.35,"a":9.8,"c":-13.6,"e":1.5},{"t":28.8,"a":3.5,"c":-0.9,"e":0.7},{"t":29.25,"a":10.4,"c":-12.9,"e":1.4},{"t":29.7,"a":3.0,"c":-1.2,"e":0.8},{"t":30.15,"a":10.0,"c":-12.1,"e":1.6},{"t":30.6,"a":3.6,"c":-2.6,"e":0.7},{"t":31.05,"a":9.5,"c":-14.2,"e":1.5},
{"t":31.5,"a":3.2,"c":-1.4,"e":0.6},{"t":31.95,"a":11.3,"c":-13.1,"e":1.7},{"t":32.4,"a":3.8,"c":-0.8,"e":0.7},{"t":32.85,"a":9.9,"c":-12.6,"e":1.5},{"t":33.3,"a":3.4,"c":-1.8,"e":0.8},{"t":33.75,"a":10.6,"c":-13.8,"e":1.4},{"t":34.2,"a":3.1,"c":-2.3,"e":0.7},{"t":34.65,"a":10.9,"c":-12.3,"e":1.6},{"t":35.1,"a":3.7,"c":-1.0,"e":0.6},{"t":35.55,"a":10.2,"c":-13.5,"e":1.5},
{"t":36.0,"a":3.3,"c":-0.6,"e":0.7},{"t":36.45,"a":9.8,"c":-14.1,"e":1.4},{"t":36.9,"a":3.5,"c":-2.2,"e":0.8},{"t":37.35,"a":10.4,"c":-12.7,"e":1.6},{"t":37.8,"a":3.0,"c":-1.5,"e":0.7},{"t":38.25,"a":9.9,"c":-13.3,"e":1.5},{"t":38.7,"a":3.6,"c":-1.9,"e":0.6},{"t":39.15,"a":10.5,"c":-12.2,"e":1.4},{"t":39.6,"a":3.2,"c":-0.7,"e":0.7},{"t":40.05,"a":10.0,"c":-13.9,"e":1.6},
{"t":40.5,"a":3.8,"c":-2.5,"e":0.8},{"t":40.95,"a":9.7,"c":-12.5,"e":1.5},{"t":41.4,"a":3.4,"c":-1.1,"e":0.7},{"t":41.85,"a":10.3,"c":-14.3,"e":1.7},{"t":42.3,"a":2.9,"c":-1.7,"e":0.6},{"t":42.75,"a":9.8,"c":-13.0,"e":1.5},{"t":43.2,"a":3.7,"c":-0.9,"e":0.7},{"t":43.65,"a":10.7,"c":-12.4,"e":1.4},{"t":44.1,"a":3.3,"c":-2.1,"e":0.8},{"t":44.55,"a":10.1,"c":-13.7,"e":1.6},
{"t":45.0,"a":3.5,"c":-1.3,"e":0.7},{"t":45.45,"a":9.9,"c":-12.8,"e":1.5},{"t":45.9,"a":3.1,"c":-0.6,"e":0.6},{"t":46.35,"a":10.5,"c":-13.4,"e":1.4},{"t":46.8,"a":3.6,"c":-2.4,"e":0.7},{"t":47.25,"a":10.2,"c":-14.0,"e":1.6},{"t":47.7,"a":3.2,"c":-1.6,"e":0.8},{"t":48.15,"a":9.8,"c":-12.3,"e":1.5},{"t":48.6,"a":3.8,"c":-0.8,"e":0.7},{"t":49.05,"a":10.6,"c":-13.6,"e":1.7},
{"t":49.5,"a":3.4,"c":-2.0,"e":0.6},{"t":49.95,"a":10.0,"c":-12.6,"e":1.5},{"t":50.4,"a":3.0,"c":-1.2,"e":0.7},{"t":50.85,"a":9.7,"c":-13.2,"e":1.4},{"t":51.3,"a":3.7,"c":-0.5,"e":0.8},{"t":51.75,"a":10.4,"c":-14.2,"e":1.6},{"t":52.2,"a":3.3,"c":-2.6,"e":0.7},{"t":52.65,"a":10.1,"c":-12.9,"e":1.5},{"t":53.1,"a":3.5,"c":-1.4,"e":0.6},{"t":53.55,"a":10.8,"c":-13.5,"e":1.4},
{"t":54.0,"a":3.1,"c":-0.9,"e":0.7},{"t":54.45,"a":9.9,"c":-12.1,"e":1.6},{"t":54.9,"a":3.6,"c":-1.8,"e":0.8},{"t":55.35,"a":10.3,"c":-13.8,"e":1.5},{"t":55.8,"a":3.2,"c":-2.2,"e":0.7},{"t":56.25,"a":10.0,"c":-12.7,"e":1.4},{"t":56.7,"a":3.8,"c":-0.7,"e":0.6},{"t":57.15,"a":10.7,"c":-14.1,"e":1.6},{"t":57.6,"a":3.0,"c":-1.5,"e":0.7},{"t":58.05,"a":9.8,"c":-13.0,"e":1.5},
{"t":58.5,"a":3.5,"c":-0.8,"e":0.8},{"t":58.95,"a":10.4,"c":-12.5,"e":1.4},{"t":59.4,"a":3.6,"c":-1.4,"e":0.7}
],
"p3s":[
{"t":0,"s":"b","v":5.6},{"t":1.9,"s":"b","v":5.4},{"t":4.4,"s":"b","v":6.1},{"t":6.6,"s":"b","v":7.0},{"t":8.8,"s":"b","v":5.9},{"t":10,"s":"b","v":5.1},{"t":11.7,"s":"b","v":5.6},{"t":13.5,"s":"b","v":5.3},{"t":16.5,"s":"b","v":6.4},{"t":19.8,"s":"b","v":5.4},{"t":23.8,"s":"b","v":6.2},{"t":27,"s":"b","v":5.9},{"t":29.5,"s":"b","v":5.3},{"t":33.7,"s":"b","v":6.4},{"t":37,"s":"b","v":5.5},{"t":39.6,"s":"b","v":6.3},{"t":42.5,"s":"b","v":5.7},{"t":44.9,"s":"b","v":6.4},{"t":47.7,"s":"b","v":5.7},{"t":49.7,"s":"b","v":6.3},{"t":53.4,"s":"b","v":5.4},{"t":55.8,"s":"b","v":6.3},{"t":57.8,"s":"b","v":5.5},{"t":59.7,"s":"b","v":5.7},
{"t":0,"s":"d","v":-6.7},{"t":0.9,"s":"d","v":-6.1},{"t":2.3,"s":"d","v":-9.2},{"t":3.8,"s":"d","v":-7.3},{"t":4.4,"s":"d","v":-5.7},{"t":7.4,"s":"d","v":-9.9},{"t":10.8,"s":"d","v":-6.7},{"t":13.7,"s":"d","v":-8.5},{"t":15.5,"s":"d","v":-7.6},{"t":18.1,"s":"d","v":-9.3},{"t":21,"s":"d","v":-7.0},{"t":23.8,"s":"d","v":-8.9},{"t":26.2,"s":"d","v":-7.8},{"t":28.9,"s":"d","v":-8.7},{"t":31.9,"s":"d","v":-6.9},{"t":34.9,"s":"d","v":-9.3},{"t":38,"s":"d","v":-7.1},{"t":40.4,"s":"d","v":-8.2},{"t":43.6,"s":"d","v":-7.6},{"t":46.1,"s":"d","v":-9.3},{"t":49.3,"s":"d","v":-7.3},{"t":52.1,"s":"d","v":-9.2},{"t":54.6,"s":"d","v":-8.0},{"t":57.8,"s":"d","v":-7.5},{"t":59.7,"s":"d","v":-8.2},
{"t":0,"s":"f","v":0.5},{"t":1.7,"s":"f","v":-1.55},{"t":3.8,"s":"f","v":0.9},{"t":6.6,"s":"f","v":-1.2},{"t":9.2,"s":"f","v":1.1},{"t":11.7,"s":"f","v":-1.1},{"t":14.7,"s":"f","v":0.6},{"t":17.5,"s":"f","v":-0.8},{"t":20.6,"s":"f","v":0.6},{"t":23,"s":"f","v":-0.6},{"t":26.2,"s":"f","v":0.5},{"t":28.9,"s":"f","v":-0.7},{"t":31.5,"s":"f","v":0.6},{"t":33.7,"s":"f","v":-0.9},{"t":36.4,"s":"f","v":0.5},{"t":39.2,"s":"f","v":-1.1},{"t":42,"s":"f","v":0.6},{"t":44.9,"s":"f","v":-0.9},{"t":47.5,"s":"f","v":0.6},{"t":50.3,"s":"f","v":-0.9},{"t":53.2,"s":"f","v":0.3},{"t":55.4,"s":"f","v":-0.6},{"t":57.8,"s":"f","v":0.2},{"t":59.7,"s":"f","v":0.0}
],
"p4f":[
{"t":0,"a":1.6,"e":-5.0},{"t":0.45,"a":0.7,"e":-5.0},{"t":0.75,"a":-3.2,"e":-5.2},{"t":1,"a":0.8,"e":-4.6},{"t":1.45,"a":0.6,"e":-4.95},{"t":1.75,"a":-2.6,"e":-5.25},{"t":2,"a":0.9,"e":-4.45},{"t":2.45,"a":0.3,"e":-5.05},{"t":2.75,"a":-2.5,"e":-5.15},{"t":3,"a":0.7,"e":-4.55},{"t":3.45,"a":0.5,"e":-5.0},{"t":3.75,"a":-2.3,"e":-5.3},
{"t":4,"a":1.3,"e":-4.5},{"t":4.45,"a":0.8,"e":-4.95},{"t":4.75,"a":-3.0,"e":-5.2},{"t":5,"a":1.4,"e":-4.6},{"t":5.45,"a":0.6,"e":-5.05},{"t":5.75,"a":-2.7,"e":-5.25},{"t":6,"a":1.5,"e":-4.45},{"t":6.45,"a":0.9,"e":-5.0},{"t":6.75,"a":-2.2,"e":-5.15},{"t":7,"a":1.4,"e":-4.5},{"t":7.45,"a":0.7,"e":-4.95},{"t":7.75,"a":-2.9,"e":-5.2},
{"t":8,"a":1.0,"e":-4.55},{"t":8.45,"a":0.5,"e":-5.05},{"t":8.75,"a":-3.1,"e":-5.3},{"t":9,"a":1.1,"e":-4.5},{"t":9.45,"a":0.6,"e":-5.0},{"t":9.75,"a":-2.6,"e":-5.2},{"t":10,"a":1.3,"e":-4.6},{"t":10.45,"a":0.8,"e":-4.95},{"t":10.75,"a":-3.1,"e":-5.25},{"t":11,"a":1.2,"e":-4.5},{"t":11.45,"a":0.5,"e":-5.05},{"t":11.75,"a":-2.4,"e":-5.15},
{"t":12,"a":1.5,"e":-4.45},{"t":12.45,"a":0.7,"e":-5.0},{"t":12.75,"a":-2.8,"e":-5.2},{"t":13,"a":1.1,"e":-4.55},{"t":13.45,"a":0.6,"e":-4.95},{"t":13.75,"a":-3.0,"e":-5.3},{"t":14,"a":1.3,"e":-4.5},{"t":14.45,"a":0.9,"e":-5.05},{"t":14.75,"a":-2.5,"e":-5.2},{"t":15,"a":1.2,"e":-4.6},{"t":15.45,"a":0.5,"e":-5.0},{"t":15.75,"a":-3.2,"e":-5.25},
{"t":16,"a":1.4,"e":-4.5},{"t":16.45,"a":0.7,"e":-4.95},{"t":16.75,"a":-2.7,"e":-5.15},{"t":17,"a":1.3,"e":-4.45},{"t":17.45,"a":0.8,"e":-5.05},{"t":17.75,"a":-2.9,"e":-5.2},{"t":18,"a":1.3,"e":-4.4},{"t":18.45,"a":0.6,"e":-5.0},{"t":18.75,"a":-2.3,"e":-5.3},{"t":19,"a":1.1,"e":-4.55},{"t":19.45,"a":0.5,"e":-4.95},{"t":19.75,"a":-3.0,"e":-5.2},
{"t":20,"a":1.2,"e":-4.5},{"t":20.45,"a":0.7,"e":-5.05},{"t":20.75,"a":-2.8,"e":-5.25},{"t":21,"a":1.4,"e":-4.6},{"t":21.45,"a":0.8,"e":-5.0},{"t":21.75,"a":-2.4,"e":-5.15},{"t":22,"a":1.0,"e":-4.5},{"t":22.45,"a":0.5,"e":-4.95},{"t":22.75,"a":-3.1,"e":-5.2},{"t":23,"a":1.3,"e":-4.45},{"t":23.45,"a":0.6,"e":-5.05},{"t":23.75,"a":-2.6,"e":-5.3},
{"t":24,"a":1.3,"e":-4.4},{"t":24.45,"a":0.9,"e":-5.0},{"t":24.75,"a":-2.9,"e":-5.2},{"t":25,"a":0.9,"e":-4.55},{"t":25.45,"a":0.4,"e":-4.95},{"t":25.75,"a":-3.2,"e":-5.25},{"t":26,"a":1.4,"e":-4.5},{"t":26.45,"a":0.7,"e":-5.05},{"t":26.75,"a":-2.5,"e":-5.15},{"t":27,"a":1.2,"e":-4.6},{"t":27.45,"a":0.6,"e":-5.0},{"t":27.75,"a":-3.0,"e":-5.2},
{"t":28,"a":1.0,"e":-4.5},{"t":28.45,"a":0.5,"e":-4.95},{"t":28.75,"a":-2.8,"e":-5.3},{"t":29,"a":1.5,"e":-4.45},{"t":29.45,"a":0.8,"e":-5.05},{"t":29.75,"a":-2.6,"e":-5.2},{"t":30,"a":1.2,"e":-4.5},{"t":30.45,"a":0.7,"e":-5.0},{"t":30.75,"a":-3.3,"e":-5.25},{"t":31,"a":1.3,"e":-4.6},{"t":31.45,"a":0.6,"e":-4.95},{"t":31.75,"a":-2.7,"e":-5.15},
{"t":32,"a":1.4,"e":-4.55},{"t":32.45,"a":0.9,"e":-5.05},{"t":32.75,"a":-2.4,"e":-5.2},{"t":33,"a":1.2,"e":-4.5},{"t":33.45,"a":0.5,"e":-5.0},{"t":33.75,"a":-2.9,"e":-5.3},{"t":34,"a":1.4,"e":-4.6},{"t":34.45,"a":0.7,"e":-4.95},{"t":34.75,"a":-3.4,"e":-5.2},{"t":35,"a":1.1,"e":-4.5},{"t":35.45,"a":0.6,"e":-5.05},{"t":35.75,"a":-2.6,"e":-5.25},
{"t":36,"a":1.3,"e":-4.45},{"t":36.45,"a":0.8,"e":-5.0},{"t":36.75,"a":-3.0,"e":-5.15},{"t":37,"a":1.4,"e":-4.4},{"t":37.45,"a":0.7,"e":-4.95},{"t":37.75,"a":-2.8,"e":-5.2},{"t":38,"a":1.2,"e":-4.55},{"t":38.45,"a":0.5,"e":-5.05},{"t":38.75,"a":-2.5,"e":-5.3},{"t":39,"a":1.3,"e":-4.5},{"t":39.45,"a":0.6,"e":-5.0},{"t":39.75,"a":-3.1,"e":-5.2},
{"t":40,"a":0.8,"e":-4.6},{"t":40.45,"a":0.4,"e":-4.95},{"t":40.75,"a":-2.7,"e":-5.25},{"t":41,"a":1.4,"e":-4.5},{"t":41.45,"a":0.8,"e":-5.05},{"t":41.75,"a":-2.9,"e":-5.15},{"t":42,"a":1.2,"e":-4.45},{"t":42.45,"a":0.6,"e":-5.0},{"t":42.75,"a":-3.2,"e":-5.2},{"t":43,"a":1.1,"e":-4.55},{"t":43.45,"a":0.5,"e":-4.95},{"t":43.75,"a":-2.4,"e":-5.3},
{"t":44,"a":1.3,"e":-4.6},{"t":44.45,"a":0.7,"e":-5.05},{"t":44.75,"a":-2.8,"e":-5.2},{"t":45,"a":1.4,"e":-4.5},{"t":45.45,"a":0.9,"e":-5.0},{"t":45.75,"a":-3.0,"e":-5.25},{"t":46,"a":1.2,"e":-4.4},{"t":46.45,"a":0.6,"e":-4.95},{"t":46.75,"a":-2.6,"e":-5.15},{"t":47,"a":1.1,"e":-4.5},{"t":47.45,"a":0.5,"e":-5.05},{"t":47.75,"a":-3.5,"e":-5.2},
{"t":48,"a":1.3,"e":-4.55},{"t":48.45,"a":0.8,"e":-5.0},{"t":48.75,"a":-2.9,"e":-5.3},{"t":49,"a":1.0,"e":-4.6},{"t":49.45,"a":0.4,"e":-4.95},{"t":49.75,"a":-2.7,"e":-5.2},{"t":50,"a":1.2,"e":-4.5},{"t":50.45,"a":0.6,"e":-5.05},{"t":50.75,"a":-3.1,"e":-5.25},{"t":51,"a":1.4,"e":-4.45},{"t":51.45,"a":0.8,"e":-5.0},{"t":51.75,"a":-2.5,"e":-5.15},
{"t":52,"a":1.3,"e":-4.55},{"t":52.45,"a":0.7,"e":-4.95},{"t":52.75,"a":-2.8,"e":-5.2},{"t":53,"a":1.5,"e":-4.5},{"t":53.45,"a":0.9,"e":-5.05},{"t":53.75,"a":-3.4,"e":-5.3},{"t":54,"a":1.2,"e":-4.6},{"t":54.45,"a":0.6,"e":-5.0},{"t":54.75,"a":-2.6,"e":-5.2},{"t":55,"a":1.3,"e":-4.4},{"t":55.45,"a":0.7,"e":-4.95},{"t":55.75,"a":-3.0,"e":-5.25},
{"t":56,"a":1.0,"e":-4.5},{"t":56.45,"a":0.5,"e":-5.05},{"t":56.75,"a":-2.7,"e":-5.15},{"t":57,"a":1.3,"e":-4.55},{"t":57.45,"a":0.8,"e":-5.0},{"t":57.75,"a":-2.9,"e":-5.2},{"t":58,"a":1.2,"e":-4.6},{"t":58.45,"a":0.6,"e":-4.95},{"t":58.75,"a":-3.1,"e":-5.3},{"t":59,"a":1.0,"e":-4.45},{"t":59.45,"a":0.4,"e":-5.05},{"t":59.75,"a":-2.5,"e":-5.2}
],
"p4s":[
{"t":0,"s":"b","v":0.3},{"t":0.5,"s":"b","v":-0.2},{"t":1.2,"s":"b","v":-0.75},{"t":2,"s":"b","v":-0.6},{"t":3,"s":"b","v":-0.1},{"t":4,"s":"b","v":0.2},{"t":5,"s":"b","v":0.35},{"t":6,"s":"b","v":0.2},{"t":7,"s":"b","v":0.0},{"t":8.5,"s":"b","v":-0.1},{"t":9.5,"s":"b","v":-0.15},{"t":11,"s":"b","v":0.05},{"t":12,"s":"b","v":0.1},{"t":14,"s":"b","v":-0.2},{"t":16,"s":"b","v":0.15},{"t":18,"s":"b","v":0.1},{"t":20,"s":"b","v":-0.2},{"t":22,"s":"b","v":-0.1},{"t":24,"s":"b","v":0.05},{"t":26,"s":"b","v":-0.1},{"t":28,"s":"b","v":0.05},{"t":31,"s":"b","v":-0.2},{"t":33,"s":"b","v":0.0},{"t":35,"s":"b","v":0.15},{"t":38,"s":"b","v":-0.15},{"t":41,"s":"b","v":-0.05},{"t":45,"s":"b","v":0.25},{"t":47.5,"s":"b","v":-0.15},{"t":50,"s":"b","v":-0.1},{"t":52,"s":"b","v":0.1},{"t":53,"s":"b","v":0.0},{"t":54.5,"s":"b","v":0.15},{"t":56,"s":"b","v":0.0},{"t":59,"s":"b","v":-0.25},{"t":59.8,"s":"b","v":0.0},
{"t":0,"s":"f","v":-3.2},{"t":1.4,"s":"f","v":-2.33},{"t":4,"s":"f","v":-3.26},{"t":5.3,"s":"f","v":-3.39},{"t":7.4,"s":"f","v":-2.29},{"t":10.2,"s":"f","v":-3.72},{"t":12.6,"s":"f","v":-2.23},{"t":16,"s":"f","v":-3.47},{"t":18.4,"s":"f","v":-2.29},{"t":20.1,"s":"f","v":-3.39},{"t":21.4,"s":"f","v":-3.13},{"t":22.6,"s":"f","v":-3.39},{"t":24.4,"s":"f","v":-2.21},{"t":26.6,"s":"f","v":-3.64},{"t":29.9,"s":"f","v":-2.44},{"t":31.6,"s":"f","v":-3.43},{"t":33.3,"s":"f","v":-2.9},{"t":34.4,"s":"f","v":-3.39},{"t":36.5,"s":"f","v":-2.34},{"t":38.6,"s":"f","v":-3.43},{"t":40,"s":"f","v":-3.24},{"t":42.3,"s":"f","v":-2.25},{"t":44.5,"s":"f","v":-3.85},{"t":47.4,"s":"f","v":-2.21},{"t":49.8,"s":"f","v":-3.8},{"t":52.2,"s":"f","v":-2.34},{"t":54.5,"s":"f","v":-3.52},{"t":56.7,"s":"f","v":-2.65},{"t":58.4,"s":"f","v":-3.16},{"t":59.8,"s":"f","v":-3.03}
],
"p5f":[
{"t":0,"a":1.4,"e":-5.1},{"t":0.45,"a":0.9,"e":-5.0},{"t":0.75,"a":-2.3,"e":-5.25},{"t":1,"a":1.3,"e":-4.5},{"t":1.45,"a":0.6,"e":-5.0},{"t":1.75,"a":-3.0,"e":-5.3},{"t":2,"a":1.2,"e":-4.6},{"t":2.45,"a":0.8,"e":-4.95},{"t":2.75,"a":-2.6,"e":-5.2},{"t":3,"a":1.4,"e":-4.5},{"t":3.45,"a":1.1,"e":-5.05},{"t":3.75,"a":-2.8,"e":-5.25},
{"t":4,"a":1.3,"e":-4.7},{"t":4.45,"a":0.7,"e":-5.0},{"t":4.75,"a":-2.2,"e":-5.3},{"t":5,"a":1.5,"e":-4.5},{"t":5.45,"a":0.9,"e":-4.95},{"t":5.75,"a":-3.3,"e":-5.2},{"t":6,"a":2.4,"e":-4.45},{"t":6.45,"a":1.2,"e":-5.05},{"t":6.75,"a":-3.0,"e":-5.25},{"t":7,"a":1.8,"e":-4.5},{"t":7.45,"a":1.0,"e":-5.0},{"t":7.75,"a":-2.9,"e":-5.3},
{"t":8,"a":1.1,"e":-4.6},{"t":8.45,"a":0.5,"e":-4.95},{"t":8.75,"a":-2.4,"e":-5.2},{"t":9,"a":1.4,"e":-4.5},{"t":9.45,"a":0.8,"e":-5.05},{"t":9.75,"a":-2.6,"e":-5.25},{"t":10,"a":1.2,"e":-4.7},{"t":10.45,"a":0.9,"e":-5.0},{"t":10.75,"a":-3.1,"e":-5.3},{"t":11,"a":1.6,"e":-4.45},{"t":11.45,"a":1.0,"e":-4.95},{"t":11.75,"a":-3.8,"e":-5.2},
{"t":12,"a":1.5,"e":-4.6},{"t":12.45,"a":0.8,"e":-5.05},{"t":12.75,"a":-2.7,"e":-5.25},{"t":13,"a":1.7,"e":-4.5},{"t":13.45,"a":1.2,"e":-5.0},{"t":13.75,"a":-2.4,"e":-5.3},{"t":14,"a":1.9,"e":-4.45},{"t":14.45,"a":1.1,"e":-4.95},{"t":14.75,"a":-2.9,"e":-5.2},{"t":15,"a":1.3,"e":-4.5},{"t":15.45,"a":0.7,"e":-5.05},{"t":15.75,"a":-1.9,"e":-5.25},
{"t":16,"a":1.5,"e":-4.6},{"t":16.45,"a":0.9,"e":-5.0},{"t":16.75,"a":-3.0,"e":-5.3},{"t":17,"a":1.2,"e":-4.5},{"t":17.45,"a":0.8,"e":-4.95},{"t":17.75,"a":-2.5,"e":-5.2},{"t":18,"a":1.4,"e":-4.7},{"t":18.45,"a":1.0,"e":-5.05},{"t":18.75,"a":-2.8,"e":-5.25},{"t":19,"a":1.6,"e":-4.5},{"t":19.45,"a":0.9,"e":-5.0},{"t":19.75,"a":-2.6,"e":-5.3},
{"t":20,"a":1.5,"e":-4.35},{"t":20.45,"a":0.8,"e":-4.95},{"t":20.75,"a":-3.2,"e":-5.2},{"t":21,"a":1.3,"e":-4.5},{"t":21.45,"a":0.7,"e":-5.05},{"t":21.75,"a":-2.3,"e":-5.25},{"t":22,"a":1.4,"e":-4.6},{"t":22.45,"a":1.0,"e":-5.0},{"t":22.75,"a":-2.9,"e":-5.3},{"t":23,"a":1.2,"e":-4.45},{"t":23.45,"a":0.6,"e":-4.95},{"t":23.75,"a":-2.7,"e":-5.2},
{"t":24,"a":1.5,"e":-4.5},{"t":24.45,"a":0.9,"e":-5.05},{"t":24.75,"a":-2.4,"e":-5.25},{"t":25,"a":2.0,"e":-4.3},{"t":25.45,"a":1.1,"e":-5.0},{"t":25.75,"a":-3.0,"e":-5.3},{"t":26,"a":1.4,"e":-4.5},{"t":26.45,"a":0.8,"e":-4.95},{"t":26.75,"a":-2.6,"e":-5.2},{"t":27,"a":1.3,"e":-4.6},{"t":27.45,"a":0.7,"e":-5.05},{"t":27.75,"a":-2.8,"e":-5.25},
{"t":28,"a":1.5,"e":-4.5},{"t":28.45,"a":0.9,"e":-5.0},{"t":28.75,"a":-3.3,"e":-5.3},{"t":29,"a":1.4,"e":-4.45},{"t":29.45,"a":1.0,"e":-4.95},{"t":29.75,"a":-2.5,"e":-5.2},{"t":30,"a":1.3,"e":-4.6},{"t":30.45,"a":0.8,"e":-5.05},{"t":30.75,"a":-2.9,"e":-5.25},{"t":31,"a":1.5,"e":-4.3},{"t":31.45,"a":0.9,"e":-5.0},{"t":31.75,"a":-2.7,"e":-5.35},
{"t":32,"a":1.4,"e":-4.5},{"t":32.45,"a":0.7,"e":-4.95},{"t":32.75,"a":-3.5,"e":-5.2},{"t":33,"a":1.6,"e":-4.6},{"t":33.45,"a":1.1,"e":-5.05},{"t":33.75,"a":-2.6,"e":-5.25},{"t":34,"a":1.2,"e":-4.5},{"t":34.45,"a":0.8,"e":-5.0},{"t":34.75,"a":-2.8,"e":-5.3},{"t":35,"a":1.5,"e":-4.45},{"t":35.45,"a":0.9,"e":-4.95},{"t":35.75,"a":-3.0,"e":-5.2},
{"t":36,"a":1.6,"e":-4.6},{"t":36.45,"a":1.0,"e":-5.05},{"t":36.75,"a":-2.4,"e":-5.25},{"t":37,"a":1.3,"e":-4.5},{"t":37.45,"a":0.7,"e":-5.0},{"t":37.75,"a":-2.9,"e":-5.3},{"t":38,"a":1.4,"e":-4.7},{"t":38.45,"a":0.9,"e":-4.95},{"t":38.75,"a":-2.7,"e":-5.2},{"t":39,"a":1.5,"e":-4.5},{"t":39.45,"a":1.0,"e":-5.05},{"t":39.75,"a":-3.1,"e":-5.25},
{"t":40,"a":1.3,"e":-4.45},{"t":40.45,"a":0.8,"e":-5.0},{"t":40.75,"a":-2.5,"e":-5.35},{"t":41,"a":1.6,"e":-4.6},{"t":41.45,"a":1.0,"e":-4.95},{"t":41.75,"a":-2.8,"e":-5.2},{"t":42,"a":1.2,"e":-4.5},{"t":42.45,"a":0.7,"e":-5.05},{"t":42.75,"a":-3.0,"e":-5.25},{"t":43,"a":1.5,"e":-4.4},{"t":43.45,"a":0.9,"e":-5.0},{"t":43.75,"a":-2.6,"e":-5.3},
{"t":44,"a":1.4,"e":-4.5},{"t":44.45,"a":0.8,"e":-4.95},{"t":44.75,"a":-3.2,"e":-5.2},{"t":45,"a":1.3,"e":-4.6},{"t":45.45,"a":0.7,"e":-5.05},{"t":45.75,"a":-2.4,"e":-5.25},{"t":46,"a":1.6,"e":-4.3},{"t":46.45,"a":1.0,"e":-5.0},{"t":46.75,"a":-2.9,"e":-5.3},{"t":47,"a":1.2,"e":-4.5},{"t":47.45,"a":0.8,"e":-4.95},{"t":47.75,"a":-2.7,"e":-5.2},
{"t":48,"a":1.4,"e":-4.45},{"t":48.45,"a":0.9,"e":-5.05},{"t":48.75,"a":-3.0,"e":-5.35},{"t":49,"a":1.5,"e":-4.6},{"t":49.45,"a":1.0,"e":-5.0},{"t":49.75,"a":-2.5,"e":-5.25},{"t":50,"a":1.3,"e":-4.4},{"t":50.45,"a":0.7,"e":-4.95},{"t":50.75,"a":-2.8,"e":-5.2},{"t":51,"a":1.6,"e":-4.5},{"t":51.45,"a":1.1,"e":-5.05},{"t":51.75,"a":-3.1,"e":-5.3},
{"t":52,"a":1.4,"e":-4.35},{"t":52.45,"a":0.9,"e":-5.0},{"t":52.75,"a":-2.6,"e":-5.25},{"t":53,"a":1.8,"e":-4.5},{"t":53.45,"a":1.0,"e":-4.95},{"t":53.75,"a":-2.9,"e":-5.2},{"t":54,"a":1.3,"e":-4.6},{"t":54.45,"a":0.8,"e":-5.05},{"t":54.75,"a":-2.4,"e":-5.35},{"t":55,"a":1.5,"e":-4.4},{"t":55.45,"a":0.9,"e":-5.0},{"t":55.75,"a":-3.0,"e":-5.25},
{"t":56,"a":1.4,"e":-4.5},{"t":56.45,"a":0.8,"e":-4.95},{"t":56.75,"a":-2.7,"e":-5.3},{"t":57,"a":1.3,"e":-4.3},{"t":57.45,"a":0.7,"e":-5.05},{"t":57.75,"a":-3.1,"e":-5.2},{"t":58,"a":1.5,"e":-4.45},{"t":58.45,"a":0.9,"e":-5.0},{"t":58.75,"a":-2.8,"e":-5.3},{"t":59,"a":1.4,"e":-4.6},{"t":59.45,"a":0.8,"e":-4.95},{"t":59.75,"a":-2.3,"e":-5.2}
],
"p5s":[
{"t":0,"s":"b","v":0.4},{"t":1.1,"s":"b","v":-0.65},{"t":2,"s":"b","v":-0.5},{"t":3.3,"s":"b","v":0.5},{"t":4.8,"s":"b","v":-0.15},{"t":6.3,"s":"b","v":0.7},{"t":8.7,"s":"b","v":0.45},{"t":11.1,"s":"b","v":-0.4},{"t":14.1,"s":"b","v":0.6},{"t":16.8,"s":"b","v":0.05},{"t":19.8,"s":"b","v":0.45},{"t":22,"s":"b","v":-0.05},{"t":25,"s":"b","v":0.55},{"t":27.8,"s":"b","v":0.0},{"t":30.2,"s":"b","v":0.4},{"t":32.7,"s":"b","v":0.05},{"t":35,"s":"b","v":0.45},{"t":38.5,"s":"b","v":-0.15},{"t":41.2,"s":"b","v":0.35},{"t":44.6,"s":"b","v":-0.15},{"t":46.8,"s":"b","v":0.6},{"t":48.8,"s":"b","v":0.05},{"t":52.3,"s":"b","v":0.5},{"t":54,"s":"b","v":0.15},{"t":56.5,"s":"b","v":0.35},{"t":58.4,"s":"b","v":0.2},{"t":59.2,"s":"b","v":0.5},{"t":59.8,"s":"b","v":0.3},
{"t":0,"s":"f","v":-2.2},{"t":1.9,"s":"f","v":-4.4},{"t":4.1,"s":"f","v":-1.6},{"t":6.7,"s":"f","v":-4.06},{"t":9.7,"s":"f","v":-2.04},{"t":12,"s":"f","v":-3.8},{"t":15.2,"s":"f","v":-2.25},{"t":18,"s":"f","v":-3.7},{"t":20.4,"s":"f","v":-2.36},{"t":23.7,"s":"f","v":-3.7},{"t":26.2,"s":"f","v":-2.04},{"t":28.7,"s":"f","v":-3.8},{"t":31.6,"s":"f","v":-1.8},{"t":34.1,"s":"f","v":-4.1},{"t":37.3,"s":"f","v":-1.9},{"t":40,"s":"f","v":-4.2},{"t":42.8,"s":"f","v":-1.78},{"t":45.3,"s":"f","v":-4.1},{"t":48.2,"s":"f","v":-2.1},{"t":50.8,"s":"f","v":-3.8},{"t":53.3,"s":"f","v":-2.4},{"t":56.2,"s":"f","v":-3.3},{"t":58.7,"s":"f","v":-2.75},{"t":59.8,"s":"f","v":-2.93}
],
"p6f":[
{"t":0,"a":0.9,"e":-5.1},{"t":0.45,"a":0.6,"e":-5.0},{"t":0.75,"a":-1.7,"e":-5.3},{"t":1,"a":1.3,"e":-4.55},{"t":1.45,"a":0.8,"e":-5.05},{"t":1.75,"a":-2.2,"e":-5.35},{"t":2,"a":1.0,"e":-4.6},{"t":2.45,"a":0.5,"e":-5.0},{"t":2.75,"a":-1.4,"e":-5.3},{"t":3,"a":1.5,"e":-4.3},{"t":3.45,"a":1.2,"e":-4.95},{"t":3.75,"a":-1.8,"e":-5.25},
{"t":4,"a":1.1,"e":-4.5},{"t":4.45,"a":0.7,"e":-5.05},{"t":4.75,"a":-1.0,"e":-5.4},{"t":5,"a":1.3,"e":-4.6},{"t":5.45,"a":0.9,"e":-5.0},{"t":5.75,"a":-2.6,"e":-5.3},{"t":6,"a":1.2,"e":-4.5},{"t":6.45,"a":0.8,"e":-4.95},{"t":6.75,"a":-1.9,"e":-5.25},{"t":7,"a":1.5,"e":-4.65},{"t":7.45,"a":1.1,"e":-5.05},{"t":7.75,"a":-3.0,"e":-5.35},
{"t":8,"a":1.4,"e":-4.5},{"t":8.45,"a":0.9,"e":-5.0},{"t":8.75,"a":-2.2,"e":-5.3},{"t":9,"a":1.7,"e":-4.45},{"t":9.45,"a":1.2,"e":-4.95},{"t":9.75,"a":-1.5,"e":-5.25},{"t":10,"a":2.0,"e":-4.6},{"t":10.45,"a":1.3,"e":-5.05},{"t":10.75,"a":-2.7,"e":-5.3},{"t":11,"a":1.3,"e":-4.5},{"t":11.45,"a":0.8,"e":-5.0},{"t":11.75,"a":-1.9,"e":-5.35},
{"t":12,"a":1.5,"e":-4.7},{"t":12.45,"a":1.0,"e":-4.95},{"t":12.75,"a":-3.3,"e":-5.3},{"t":13,"a":1.4,"e":-4.5},{"t":13.45,"a":0.9,"e":-5.05},{"t":13.75,"a":-2.1,"e":-5.25},{"t":14,"a":1.6,"e":-4.6},{"t":14.45,"a":1.2,"e":-5.0},{"t":14.75,"a":-1.4,"e":-5.3},{"t":15,"a":1.5,"e":-4.45},{"t":15.45,"a":1.0,"e":-4.95},{"t":15.75,"a":-2.4,"e":-5.35},
{"t":16,"a":1.3,"e":-4.6},{"t":16.45,"a":0.8,"e":-5.05},{"t":16.75,"a":-1.8,"e":-5.3},{"t":17,"a":1.8,"e":-4.5},{"t":17.45,"a":1.3,"e":-5.0},{"t":17.75,"a":-2.6,"e":-5.25},{"t":18,"a":1.4,"e":-4.65},{"t":18.45,"a":0.9,"e":-4.95},{"t":18.75,"a":-3.1,"e":-5.3},{"t":19,"a":1.6,"e":-4.5},{"t":19.45,"a":1.1,"e":-5.05},{"t":19.75,"a":-1.5,"e":-5.35},
{"t":20,"a":1.9,"e":-4.45},{"t":20.45,"a":1.4,"e":-5.0},{"t":20.75,"a":-2.3,"e":-5.3},{"t":21,"a":1.5,"e":-4.6},{"t":21.45,"a":1.0,"e":-4.95},{"t":21.75,"a":-1.9,"e":-5.25},{"t":22,"a":2.0,"e":-4.5},{"t":22.45,"a":1.5,"e":-5.05},{"t":22.75,"a":-2.8,"e":-5.3},{"t":23,"a":1.6,"e":-4.6},{"t":23.45,"a":1.1,"e":-5.0},{"t":23.75,"a":-3.2,"e":-5.35},
{"t":24,"a":1.4,"e":-4.5},{"t":24.45,"a":0.9,"e":-4.95},{"t":24.75,"a":-1.7,"e":-5.3},{"t":25,"a":1.7,"e":-4.45},{"t":25.45,"a":1.2,"e":-5.05},{"t":25.75,"a":-2.5,"e":-5.25},{"t":26,"a":1.5,"e":-4.6},{"t":26.45,"a":1.0,"e":-5.0},{"t":26.75,"a":-2.0,"e":-5.3},{"t":27,"a":1.3,"e":-4.5},{"t":27.45,"a":0.8,"e":-4.95},{"t":27.75,"a":-3.0,"e":-5.35},
{"t":28,"a":1.6,"e":-4.65},{"t":28.45,"a":1.1,"e":-5.05},{"t":28.75,"a":-1.6,"e":-5.3},{"t":29,"a":1.4,"e":-4.5},{"t":29.45,"a":0.9,"e":-5.0},{"t":29.75,"a":-2.4,"e":-5.25},{"t":30,"a":2.0,"e":-4.6},{"t":30.45,"a":1.4,"e":-4.95},{"t":30.75,"a":-2.7,"e":-5.3},{"t":31,"a":1.5,"e":-4.45},{"t":31.45,"a":1.0,"e":-5.05},{"t":31.75,"a":-1.8,"e":-5.35},
{"t":32,"a":2.0,"e":-4.6},{"t":32.45,"a":1.3,"e":-5.0},{"t":32.75,"a":-2.2,"e":-5.3},{"t":33,"a":1.6,"e":-4.5},{"t":33.45,"a":1.1,"e":-4.95},{"t":33.75,"a":-3.1,"e":-5.25},{"t":34,"a":1.3,"e":-4.65},{"t":34.45,"a":0.8,"e":-5.05},{"t":34.75,"a":-1.5,"e":-5.3},{"t":35,"a":1.5,"e":-4.5},{"t":35.45,"a":1.0,"e":-5.0},{"t":35.75,"a":-2.6,"e":-5.35},
{"t":36,"a":1.4,"e":-4.6},{"t":36.45,"a":0.9,"e":-4.95},{"t":36.75,"a":-2.0,"e":-5.3},{"t":37,"a":1.6,"e":-4.45},{"t":37.45,"a":1.1,"e":-5.05},{"t":37.75,"a":-2.9,"e":-5.25},{"t":38,"a":1.3,"e":-4.6},{"t":38.45,"a":0.8,"e":-5.0},{"t":38.75,"a":-1.6,"e":-5.3},{"t":39,"a":1.5,"e":-4.5},{"t":39.45,"a":1.0,"e":-4.95},{"t":39.75,"a":-2.3,"e":-5.35},
{"t":40,"a":1.4,"e":-4.65},{"t":40.45,"a":0.9,"e":-5.05},{"t":40.75,"a":-2.5,"e":-5.4},{"t":41,"a":1.6,"e":-4.5},{"t":41.45,"a":1.1,"e":-5.0},{"t":41.75,"a":-1.8,"e":-5.3},{"t":42,"a":1.5,"e":-4.3},{"t":42.45,"a":1.0,"e":-4.95},{"t":42.75,"a":-3.0,"e":-5.25},{"t":43,"a":1.3,"e":-4.5},{"t":43.45,"a":0.8,"e":-5.05},{"t":43.75,"a":-2.1,"e":-5.35},
{"t":44,"a":1.8,"e":-4.6},{"t":44.45,"a":1.2,"e":-5.0},{"t":44.75,"a":-2.7,"e":-5.3},{"t":45,"a":1.6,"e":-4.4},{"t":45.45,"a":1.1,"e":-4.95},{"t":45.75,"a":-3.3,"e":-5.4},{"t":46,"a":2.1,"e":-4.5},{"t":46.45,"a":1.5,"e":-5.05},{"t":46.75,"a":-1.9,"e":-5.3},{"t":47,"a":2.3,"e":-4.3},{"t":47.45,"a":1.6,"e":-5.0},{"t":47.75,"a":-2.4,"e":-5.35},
{"t":48,"a":2.2,"e":-4.5},{"t":48.45,"a":1.5,"e":-4.95},{"t":48.75,"a":-1.6,"e":-5.3},{"t":49,"a":1.5,"e":-4.6},{"t":49.45,"a":1.0,"e":-5.05},{"t":49.75,"a":-2.8,"e":-5.25},{"t":50,"a":1.6,"e":-4.35},{"t":50.45,"a":1.1,"e":-5.0},{"t":50.75,"a":-2.2,"e":-5.3},{"t":51,"a":1.4,"e":-4.5},{"t":51.45,"a":0.9,"e":-4.95},{"t":51.75,"a":-3.0,"e":-5.35},
{"t":52,"a":1.8,"e":-4.3},{"t":52.45,"a":1.2,"e":-5.05},{"t":52.75,"a":-1.7,"e":-5.3},{"t":53,"a":1.5,"e":-4.5},{"t":53.45,"a":1.0,"e":-5.0},{"t":53.75,"a":-2.5,"e":-5.25},{"t":54,"a":1.3,"e":-4.6},{"t":54.45,"a":0.8,"e":-4.95},{"t":54.75,"a":-3.3,"e":-5.35},{"t":55,"a":1.7,"e":-4.35},{"t":55.45,"a":1.1,"e":-5.05},{"t":55.75,"a":-2.0,"e":-5.3},
{"t":56,"a":1.9,"e":-4.5},{"t":56.45,"a":1.3,"e":-5.0},{"t":56.75,"a":-4.1,"e":-5.4},{"t":57,"a":1.6,"e":-4.3},{"t":57.45,"a":1.1,"e":-4.95},{"t":57.75,"a":-2.3,"e":-5.3},{"t":58,"a":1.9,"e":-4.45},{"t":58.45,"a":1.3,"e":-5.05},{"t":58.75,"a":-1.8,"e":-5.25},{"t":59,"a":1.8,"e":-4.35},{"t":59.45,"a":1.2,"e":-5.0},{"t":59.75,"a":-2.6,"e":-5.1}
],
"p6s":[
{"t":0,"s":"b","v":0.1},{"t":2,"s":"b","v":0.45},{"t":4,"s":"b","v":0.3},{"t":6.3,"s":"b","v":-0.5},{"t":8.8,"s":"b","v":0.65},{"t":11.5,"s":"b","v":-0.2},{"t":14.2,"s":"b","v":0.55},{"t":17,"s":"b","v":0.0},{"t":19.5,"s":"b","v":0.55},{"t":22.5,"s":"b","v":-0.3},{"t":25,"s":"b","v":0.5},{"t":28,"s":"b","v":-0.1},{"t":30.5,"s":"b","v":0.55},{"t":33.5,"s":"b","v":-0.4},{"t":36,"s":"b","v":0.55},{"t":39,"s":"b","v":-0.3},{"t":41.5,"s":"b","v":0.35},{"t":44.5,"s":"b","v":-0.35},{"t":47.5,"s":"b","v":0.85},{"t":50,"s":"b","v":-0.35},{"t":52.5,"s":"b","v":0.55},{"t":55,"s":"b","v":-0.4},{"t":57.5,"s":"b","v":0.55},{"t":59.8,"s":"b","v":0.3},
{"t":0,"s":"f","v":-2.5},{"t":0.6,"s":"f","v":-2.1},{"t":2.7,"s":"f","v":-4.17},{"t":4.8,"s":"f","v":-1.89},{"t":7.4,"s":"f","v":-3.75},{"t":10.1,"s":"f","v":-2.2},{"t":12.8,"s":"f","v":-3.67},{"t":15.8,"s":"f","v":-2.26},{"t":18.6,"s":"f","v":-3.75},{"t":21.5,"s":"f","v":-1.95},{"t":24.1,"s":"f","v":-3.95},{"t":26.9,"s":"f","v":-1.9},{"t":29.4,"s":"f","v":-3.95},{"t":32.2,"s":"f","v":-2.06},{"t":34.9,"s":"f","v":-3.86},{"t":37.9,"s":"f","v":-2.26},{"t":40.4,"s":"f","v":-3.78},{"t":43.6,"s":"f","v":-2.45},{"t":46.1,"s":"f","v":-3.78},{"t":48.4,"s":"f","v":-2.4},{"t":51.4,"s":"f","v":-3.35},{"t":54.1,"s":"f","v":-2.64},{"t":56.5,"s":"f","v":-3.28},{"t":58.7,"s":"f","v":-2.85},{"t":59.6,"s":"f","v":-2.97}
]
},
"vconcat":[
{"hconcat":[
 {"width":574,"height":318,"title":{"text":"Free breathing","dx":-31,"offset":121},
  "encoding":{
   "x":{"field":"t","type":"quantitative","scale":{"domain":[0,59.8],"nice":false,"zero":false},"axis":{"values":[0,10,20,30,40,50],"title":"Time (s)"}},
   "y":{"field":"v","type":"quantitative","scale":{"domain":[-20,15],"nice":false,"zero":false},"axis":{"values":[-20,-15,-10,-5,0,5,10,15],"title":"Average flow rate (ml/s)","titleX":-58}},
   "color":{"field":"s","type":"nominal","scale":{"range":["#e8232b","#e8232b","#1d2fcf","#1d2fcf","#dd55dd","#55d655"]},"legend":{"title":null,"orient":"none","legendX":0,"legendY":-126,"direction":"horizontal","columns":6,"columnPadding":42,"labelExpr":"{'a':'ICAs flow rate','b':'BPF ICAs flow rate','c':'IJVs flow rate','d':'BPF IJVs flow rate','e':'Pulse signal','f':'Respiratory signal'}[datum.label]","encode":{"legend":{"update":{"strokeWidth":{"value":3}}}}}},
   "strokeDash":{"field":"s","type":"nominal","scale":{"range":[[1,0],[7,5],[1,0],[7,5],[1,0],[1,0]]},"legend":{"title":null,"orient":"none","legendX":0,"legendY":-126,"direction":"horizontal","columns":6,"columnPadding":42,"labelExpr":"{'a':'ICAs flow rate','b':'BPF ICAs flow rate','c':'IJVs flow rate','d':'BPF IJVs flow rate','e':'Pulse signal','f':'Respiratory signal'}[datum.label]","encode":{"legend":{"update":{"strokeWidth":{"value":3}}}}}}
  },
  "layer":[
   {"data":{"name":"p1f"},"transform":[{"fold":["a","c","e"],"as":["s","v"]}],"mark":{"type":"line","strokeWidth":1.1}},
   {"data":{"name":"p1s"},"mark":{"type":"line","strokeWidth":1.2,"interpolate":"monotone"}}
  ]},
 {"width":574,"height":318,"title":{"text":"Paced Normal breathing"},
  "encoding":{
   "x":{"field":"t","type":"quantitative","scale":{"domain":[0,59.8],"nice":false,"zero":false},"axis":{"values":[0,10,20,30,40,50],"title":"Time (s)"}},
   "y":{"field":"v","type":"quantitative","scale":{"domain":[-20,15],"nice":false,"zero":false},"axis":{"values":[-15,-10,-5,0,5,10],"labels":false,"title":null}},
   "color":{"field":"s","type":"nominal","scale":{"range":["#e8232b","#e8232b","#1d2fcf","#1d2fcf","#dd55dd","#55d655"]}},
   "strokeDash":{"field":"s","type":"nominal","scale":{"range":[[1,0],[7,5],[1,0],[7,5],[1,0],[1,0]]}}
  },
  "layer":[
   {"data":{"name":"p2f"},"transform":[{"fold":["a","c","e"],"as":["s","v"]}],"mark":{"type":"line","strokeWidth":1.1}},
   {"data":{"name":"p2s"},"mark":{"type":"line","strokeWidth":1.2,"interpolate":"monotone"}}
  ]},
 {"width":574,"height":318,"title":{"text":"Paced Deep breathing"},
  "layer":[
   {"encoding":{
     "x":{"field":"t","type":"quantitative","scale":{"domain":[0,59.8],"nice":false,"zero":false},"axis":{"values":[0,10,20,30,40,50],"title":"Time (s)"}},
     "y":{"field":"v","type":"quantitative","scale":{"domain":[-15,15],"nice":false,"zero":false},"axis":{"values":[-10,-5,0,5,10],"labels":false,"title":null}},
     "color":{"field":"s","type":"nominal","scale":{"range":["#e8232b","#e8232b","#1d2fcf","#1d2fcf","#dd55dd","#55d655"]}},
     "strokeDash":{"field":"s","type":"nominal","scale":{"range":[[1,0],[7,5],[1,0],[7,5],[1,0],[1,0]]}}
    },
    "layer":[
     {"data":{"name":"p3f"},"transform":[{"fold":["a","c","e"],"as":["s","v"]}],"mark":{"type":"line","strokeWidth":1.1}},
     {"data":{"name":"p3s"},"mark":{"type":"line","strokeWidth":1.2,"interpolate":"monotone"}}
    ]},
   {"data":{"values":[{"t":34.9,"v":11.4}]},"mark":{"type":"text","text":"→","angle":25,"fontSize":44,"font":"DejaVu Sans","fontWeight":"bold","color":"#ff1a1a"},"encoding":{"x":{"field":"t","type":"quantitative"},"y":{"field":"v","type":"quantitative"}}},
   {"data":{"values":[{"t":33.9,"v":2.8}]},"mark":{"type":"text","text":"in","fontSize":26,"font":"Liberation Sans","color":"#000"},"encoding":{"x":{"field":"t","type":"quantitative"},"y":{"field":"v","type":"quantitative"}}},
   {"data":{"values":[{"t":34.6,"v":0.45}]},"mark":{"type":"text","text":"→","angle":318,"fontSize":44,"font":"DejaVu Sans","fontWeight":"bold","color":"#1a9a3a"},"encoding":{"x":{"field":"t","type":"quantitative"},"y":{"field":"v","type":"quantitative"}}},
   {"data":{"values":[{"t":34.4,"v":-3.05}]},"mark":{"type":"text","text":"→","angle":45,"fontSize":44,"font":"DejaVu Sans","fontWeight":"bold","color":"#1f6fc0"},"encoding":{"x":{"field":"t","type":"quantitative"},"y":{"field":"v","type":"quantitative"}}}
  ]}
],"spacing":75,"bounds":"flush"},
{"hconcat":[
 {"width":573,"height":336,
  "encoding":{
   "x":{"field":"t","type":"quantitative","scale":{"domain":[0,59.8],"nice":false,"zero":false},"axis":{"values":[0,10,20,30,40,50],"title":"Time (s)","titleY":61,"labelPadding":18}},
   "y":{"field":"v","type":"quantitative","scale":{"domain":[-6,2],"nice":false,"zero":false},"axis":{"values":[-6,-4,-2,0,2],"title":"Average flow rate (ml/s)","titleX":-58}},
   "color":{"field":"s","type":"nominal","scale":{"range":["#111111","#111111","#e035e6","#55d655"]},"legend":{"title":null,"orient":"none","legendX":353,"legendY":-101,"direction":"horizontal","columns":4,"columnPadding":29,"labelExpr":"{'a':'CSF flow rate','b':'BPF CSF flow rate','e':'Pulse signal','f':'Respiratory signal'}[datum.label]","encode":{"legend":{"update":{"strokeWidth":{"value":3}}}}}},
   "strokeDash":{"field":"s","type":"nominal","scale":{"range":[[1,0],[7,5],[1,0],[1,0]]},"legend":{"title":null,"orient":"none","legendX":353,"legendY":-101,"direction":"horizontal","columns":4,"columnPadding":29,"labelExpr":"{'a':'CSF flow rate','b':'BPF CSF flow rate','e':'Pulse signal','f':'Respiratory signal'}[datum.label]","encode":{"legend":{"update":{"strokeWidth":{"value":3}}}}}}
  },
  "layer":[
   {"data":{"name":"p4f"},"transform":[{"fold":["a","e"],"as":["s","v"]}],"mark":{"type":"line","strokeWidth":1.1}},
   {"data":{"name":"p4s"},"mark":{"type":"line","strokeWidth":1.2,"interpolate":"monotone"}}
  ]},
 {"width":573,"height":332,
  "encoding":{
   "x":{"field":"t","type":"quantitative","scale":{"domain":[0,59.8],"nice":false,"zero":false},"axis":{"values":[0,10,20,30,40,50],"title":"Time (s)","titleY":65,"labelPadding":18}},
   "y":{"field":"v","type":"quantitative","scale":{"domain":[-6,4],"nice":false,"zero":false},"axis":{"values":[-6,-4,-2,0,2,4],"title":null}},
   "color":{"field":"s","type":"nominal","scale":{"range":["#111111","#111111","#e035e6","#55d655"]}},
   "strokeDash":{"field":"s","type":"nominal","scale":{"range":[[1,0],[7,5],[1,0],[1,0]]}}
  },
  "layer":[
   {"data":{"name":"p5f"},"transform":[{"fold":["a","e"],"as":["s","v"]}],"mark":{"type":"line","strokeWidth":1.1}},
   {"data":{"name":"p5s"},"mark":{"type":"line","strokeWidth":1.2,"interpolate":"monotone"}}
  ]},
 {"width":576,"height":340,
  "layer":[
   {"encoding":{
     "x":{"field":"t","type":"quantitative","scale":{"domain":[0,59.8],"nice":false,"zero":false},"axis":{"values":[0,10,20,30,40,50],"title":"Time (s)","titleY":57,"labelFontSize":12,"labelPadding":14}},
     "y":{"field":"v","type":"quantitative","scale":{"domain":[-6,3],"nice":false,"zero":false},"axis":{"values":[-6,-5,-4,-3,-2,-1,0,1,2,3],"title":null,"labelFontSize":12,"labelPadding":12}},
     "color":{"field":"s","type":"nominal","scale":{"range":["#111111","#111111","#e035e6","#55d655"]}},
     "strokeDash":{"field":"s","type":"nominal","scale":{"range":[[1,0],[7,5],[1,0],[1,0]]}}
    },
    "layer":[
     {"data":{"name":"p6f"},"transform":[{"fold":["a","e"],"as":["s","v"]}],"mark":{"type":"line","strokeWidth":1.1}},
     {"data":{"name":"p6s"},"mark":{"type":"line","strokeWidth":1.2,"interpolate":"monotone"}}
    ]},
   {"data":{"values":[{"t":25.0,"v":2.0}]},"mark":{"type":"text","text":"→","angle":300,"fontSize":44,"font":"DejaVu Sans","fontWeight":"bold","color":"#000"},"encoding":{"x":{"field":"t","type":"quantitative"},"y":{"field":"v","type":"quantitative"}}},
   {"data":{"values":[{"t":24.8,"v":-3.3}]},"mark":{"type":"text","text":"→","angle":288,"fontSize":44,"font":"DejaVu Sans","fontWeight":"bold","color":"#1a9a3a"},"encoding":{"x":{"field":"t","type":"quantitative"},"y":{"field":"v","type":"quantitative"}}},
   {"data":{"values":[{"t":26.3,"v":-3.5}]},"mark":{"type":"text","text":"in","fontSize":26,"font":"Liberation Sans","color":"#000"},"encoding":{"x":{"field":"t","type":"quantitative"},"y":{"field":"v","type":"quantitative"}}}
  ]}
],"spacing":75,"bounds":"flush"}
]
}
